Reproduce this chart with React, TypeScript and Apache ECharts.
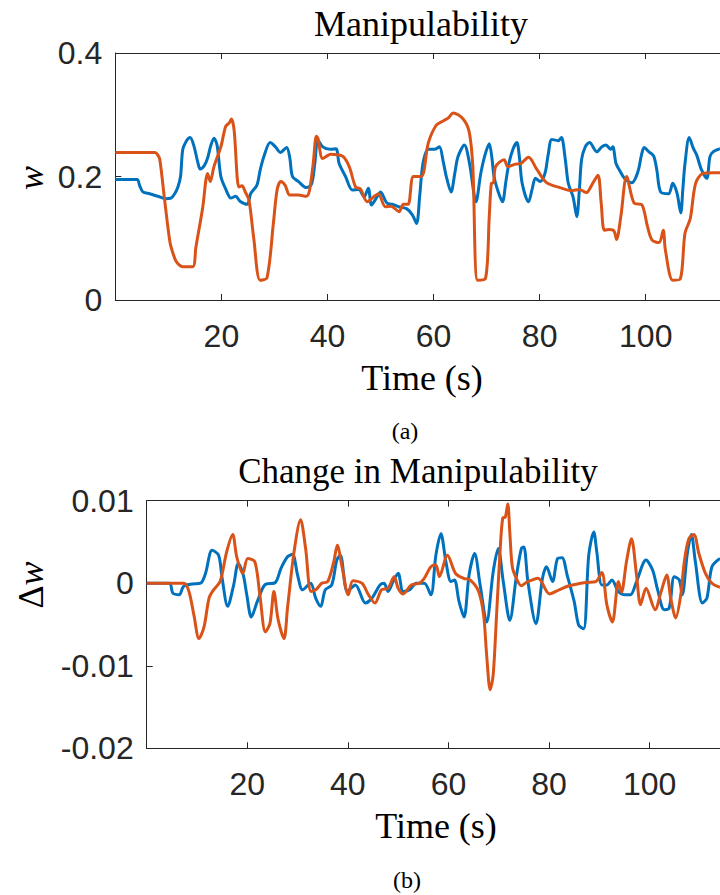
import React, { useEffect, useRef } from "react";
import * as echarts from "echarts";

// Panel (a): manipulability w over time (s)
const blueA: [number, number][] = [
  [0, 0.195], [4.1, 0.195], [4.6, 0.185], [5.2, 0.175], [6.5, 0.172], [8, 0.168], [9.5, 0.164], [10.5, 0.165],
  [11.2, 0.172], [11.8, 0.183], [12.3, 0.2], [12.7, 0.243], [13.3, 0.256], [14.1, 0.263], [14.8, 0.25], [15.5, 0.225],
  [16.0, 0.212], [16.8, 0.218], [17.4, 0.23], [18, 0.25], [18.6, 0.262], [19.2, 0.25], [19.9, 0.2], [20.8, 0.18],
  [21.8, 0.165], [22.7, 0.168], [23.5, 0.16], [24.9, 0.155], [25.5, 0.172], [26.7, 0.186], [27.3, 0.21], [28.0, 0.232],
  [29.2, 0.255], [30.2, 0.248], [31.1, 0.239], [32.3, 0.247], [32.9, 0.23], [33.4, 0.2], [34.5, 0.192], [36.0, 0.182],
  [37.0, 0.188], [37.6, 0.22], [38.2, 0.259], [39.1, 0.248], [40.5, 0.244], [41.6, 0.245], [42.2, 0.221], [43.4, 0.2],
  [44.7, 0.178], [45.9, 0.179], [46.9, 0.167], [47.7, 0.181], [48.3, 0.154], [49.2, 0.165], [50.0, 0.175], [51.2, 0.157],
  [52.2, 0.155], [53.4, 0.151], [54.9, 0.148], [56.0, 0.138], [56.8, 0.124], [57.4, 0.17], [58.0, 0.221], [59.0, 0.244],
  [60.2, 0.244], [61.1, 0.248], [61.8, 0.225], [62.4, 0.2], [63.3, 0.175], [64.0, 0.205], [64.6, 0.232], [65.8, 0.251],
  [66.8, 0.22], [68.0, 0.159], [68.9, 0.205], [69.7, 0.235], [70.5, 0.253], [71.0, 0.23], [71.4, 0.2], [72.2, 0.175],
  [73.0, 0.159], [73.6, 0.19], [74.2, 0.221], [75.0, 0.245], [75.7, 0.255], [76.2, 0.23], [76.7, 0.189], [77.9, 0.159],
  [78.6, 0.18], [79.2, 0.197], [80.1, 0.192], [81.0, 0.205], [81.6, 0.235], [82.3, 0.26], [83.5, 0.258], [84.1, 0.263],
  [84.8, 0.23], [85.4, 0.189], [86.3, 0.167], [87.0, 0.135], [87.5, 0.18], [87.9, 0.227], [88.6, 0.248], [89.4, 0.255],
  [90.8, 0.24], [91.7, 0.248], [92.5, 0.251], [93.4, 0.244], [93.8, 0.248], [94.4, 0.221], [95.2, 0.208], [96.0, 0.197],
  [97.4, 0.19], [98.2, 0.2], [98.7, 0.213], [99.2, 0.235], [99.7, 0.247], [100.6, 0.24], [101.5, 0.233], [102.1, 0.21],
  [102.8, 0.175], [104.3, 0.172], [105.1, 0.189], [105.9, 0.173], [106.6, 0.141], [107.0, 0.18], [107.4, 0.221],
  [108.2, 0.263], [109.0, 0.245], [109.6, 0.235], [110.5, 0.211], [111.5, 0.197], [112.1, 0.232], [112.7, 0.24], [114, 0.245],
];

const orangeA: [number, number][] = [
  [0, 0.239], [7.5, 0.239], [8.0, 0.235], [8.4, 0.227], [9.3, 0.162], [10.3, 0.094], [10.9, 0.075], [11.5, 0.062],
  [12.7, 0.054], [14.6, 0.054], [15.2, 0.086], [16.0, 0.125], [16.5, 0.151], [17.4, 0.205], [17.9, 0.192], [18.6, 0.216],
  [19.9, 0.248], [20.8, 0.281], [21.5, 0.287], [21.9, 0.293], [22.4, 0.275], [23.3, 0.183], [23.9, 0.185], [24.5, 0.175],
  [25.2, 0.162], [26.1, 0.1], [27.3, 0.032], [28.6, 0.036], [29.8, 0.124], [30.5, 0.178], [31.2, 0.192], [32.0, 0.186],
  [32.9, 0.17], [34.5, 0.17], [36.0, 0.168], [36.6, 0.177], [37.3, 0.22], [37.9, 0.265], [38.2, 0.262], [39.1, 0.229],
  [40.6, 0.236], [42.8, 0.233], [44.1, 0.216], [45.3, 0.183], [46.2, 0.18], [47.5, 0.159], [48.7, 0.167], [49.6, 0.172],
  [50.9, 0.151], [52.0, 0.152], [53.5, 0.143], [54.3, 0.155], [55.2, 0.155], [56.2, 0.2], [57.7, 0.2], [59.0, 0.254],
  [60.5, 0.283], [61.8, 0.29], [62.8, 0.295], [63.7, 0.303], [65.5, 0.294], [66.7, 0.273], [67.4, 0.216], [68.3, 0.032],
  [69.8, 0.035], [70.5, 0.135], [70.9, 0.189], [71.3, 0.19], [71.7, 0.216], [73.3, 0.227], [74.0, 0.216], [75.4, 0.22],
  [76.4, 0.221], [77.9, 0.231], [79.5, 0.211], [81.3, 0.19], [83.8, 0.182], [86.0, 0.177], [87.5, 0.179], [88.8, 0.174],
  [90.0, 0.189], [91.0, 0.202], [91.6, 0.157], [92.2, 0.113], [93.1, 0.114], [94.0, 0.112], [94.5, 0.098], [95.3, 0.135],
  [96.4, 0.2], [97.8, 0.157], [99.3, 0.154], [100.3, 0.12], [101.2, 0.097], [102.5, 0.093], [103.3, 0.113], [103.7, 0.081],
  [105.1, 0.032], [106.5, 0.034], [107.4, 0.108], [108.4, 0.132], [109.4, 0.189], [110.8, 0.205], [112.7, 0.206], [114, 0.206],
];

// Panel (b): change in manipulability Δw over time (s)
const blueB: [number, number][] = [
  [0, 0], [4.5, 0], [5.2, -0.0012], [6.5, -0.0014], [7.3, -0.0004], [9.0, -0.0001], [10.7, 0], [11.7, 0.0012],
  [13.0, 0.004], [14.3, 0.0034], [15.0, 0.0006], [16.1, -0.0028], [17.3, -0.0002], [18.2, 0.0024], [19.2, 0.001],
  [19.9, -0.0014], [20.8, -0.0041], [22.0, -0.0022], [23.5, -0.0002], [25.6, 0.0001], [26.7, 0.0018], [28.0, 0.0032],
  [29.0, 0.0035], [30.0, 0.001], [31.0, -0.0008], [32.6, 0], [33.6, -0.0018], [34.6, -0.0028], [35.5, -0.0008],
  [36.8, -0.0002], [37.8, 0.0028], [38.5, 0.0034], [39.9, -0.001], [41.5, -0.0002], [43.5, -0.0024], [44.8, -0.0018],
  [46.4, -0.0002], [47.2, 0], [48.0, -0.001], [49.0, 0.0002], [50.0, 0.0012], [51.0, -0.001], [52.3, -0.0008], [53.6, 0],
  [55.2, 0], [56.5, -0.0014], [57.5, 0.0034], [58.5, 0.006], [59.5, 0.0026], [60.5, 0.0002], [61.2, 0.0004],
  [62.1, -0.0022], [63.1, -0.0041], [64.1, 0.001], [65.2, 0.0036], [66.3, -0.0002], [67.6, -0.0047], [68.9, 0.0014],
  [69.9, 0.0042], [70.9, 0.0002], [72.2, -0.0045], [73.5, 0.0008], [74.5, 0.0042], [75.0, 0.0044], [75.8, 0.0002],
  [77.4, -0.0049], [78.7, 0.0006], [79.5, 0.002], [80.7, 0.0002], [81.7, 0.003], [82.6, 0.0031], [83.6, 0.001],
  [85.0, -0.0022], [85.9, -0.0051], [86.9, -0.0055], [87.9, 0.0034], [88.9, 0.0062], [89.5, 0.0038], [90.5, -0.0002],
  [91.5, -0.0002], [92.5, 0.0004], [93.8, -0.001], [95.1, -0.0014], [96.2, -0.0014], [97.3, 0], [99.3, 0.0028],
  [100.6, 0.0016], [101.6, -0.0008], [102.9, -0.0032], [103.9, -0.003], [104.9, 0.0008], [105.9, 0.0004],
  [106.5, -0.0014], [107.5, 0.0036], [108.3, 0.0059], [109.1, 0.0026], [110.5, -0.0024], [111.4, -0.0018],
  [112.4, 0.002], [114, 0.003],
];

const orangeB: [number, number][] = [
  [0, 0], [7.4, 0], [8.4, -0.001], [9.4, -0.0039], [10.4, -0.0067], [11.4, -0.0053], [12.4, -0.0018], [13.3, -0.0008],
  [14.6, 0.0002], [15.9, 0.0038], [17.1, 0.0059], [17.9, 0.0032], [19.1, 0.0012], [20.1, 0.003], [21.5, 0.0026],
  [22.5, -0.0014], [23.6, -0.0059], [24.5, -0.0049], [25.3, -0.001], [26.1, -0.0043], [27.3, -0.0067], [28.0, -0.003],
  [29.3, 0.0038], [30.6, 0.0077], [31.6, 0.0042], [32.7, -0.001], [33.8, -0.0007], [34.8, 0], [36.0, 0.0002],
  [37.2, 0.0026], [37.9, 0.0046], [38.9, 0.0018], [40.1, -0.0014], [41.0, 0.0003], [42.8, 0], [44.1, -0.0014],
  [45.4, -0.0024], [46.7, -0.0008], [48.0, -0.0006], [49.2, 0.0008], [50.0, -0.0006], [51.0, -0.0013], [52.6, -0.0002],
  [54.2, 0], [55.2, 0.0006], [56.5, 0.002], [57.5, 0.0022], [58.2, 0.0008], [59.8, 0.0034], [61.4, 0.0012],
  [63.0, 0.0006], [64.3, 0.0004], [66.0, -0.001], [67.0, -0.0039], [67.6, -0.0087], [68.3, -0.0129], [68.9, -0.0111],
  [69.6, -0.0035], [70.3, 0.0042], [70.8, 0.0079], [71.3, 0.008], [71.8, 0.0096], [72.2, 0.0062], [72.7, 0.002],
  [73.5, 0.0006], [74.5, -0.0003], [75.5, 0.0001], [77.8, 0.0006], [80.1, -0.0013], [82.0, -0.0008], [84.0, -0.0003],
  [87.3, 0.0001], [89.3, 0.0002], [90.5, 0.0013], [91.5, -0.0026], [92.6, -0.0047], [93.8, 0.0002], [94.4, -0.0011],
  [95.4, 0.0026], [96.4, 0.0054], [97.4, 0.001], [98.2, -0.0026], [99.3, -0.0006], [101.1, -0.0032], [102.3, -0.001],
  [103.4, 0.001], [104.2, -0.0018], [105.2, -0.0042], [106.2, -0.0014], [106.9, 0.0026], [107.8, 0.0054],
  [108.8, 0.0059], [109.8, 0.0036], [111.1, 0.0012], [112.4, 0], [114, -0.0005],
];

const timeMin = 0;
const timeMax = 114;
const timeStep = 20;
const wTicks = { min: 0, max: 0.4, step: 0.2 };
const dwTicks = { min: -0.02, max: 0.01, step: 0.01 };

const titles = ["Manipulability", "Change in Manipulability"];
const captions = ["(a)", "(b)"];
const xName = "Time (s)";

const BLUE = "#0072BD";
const ORANGE = "#D95319";
const AXIS = "#262626";
const SANS = "'Liberation Sans', Arial, sans-serif";
const SERIF = "'Liberation Serif', 'Times New Roman', serif";

function xAxisPair(gridIndex: number) {
  const fmt = (v: number) => (v > timeMin && v < timeMax && v % timeStep === 0 ? String(v) : "");
  const common = {
    type: "value" as const,
    gridIndex,
    min: timeMin,
    max: timeMax,
    interval: timeStep,
    splitLine: { show: false },
    axisLine: { show: true, onZero: false, lineStyle: { color: AXIS, width: 1 } },
    axisTick: { show: true, inside: true, length: 6, lineStyle: { color: AXIS, width: 1 } },
  };
  return [
    {
      ...common,
      position: "bottom" as const,
      axisLabel: {
        show: true,
        showMinLabel: false,
        showMaxLabel: false,
        formatter: fmt,
        color: AXIS,
        fontFamily: SANS,
        fontSize: 32,
        margin: 20,
      },
    },
    { ...common, position: "top" as const, axisLabel: { show: false } },
  ];
}

function yAxis(gridIndex: number, t: { min: number; max: number; step: number }) {
  return {
    type: "value" as const,
    gridIndex,
    min: t.min,
    max: t.max,
    interval: t.step,
    splitLine: { show: false },
    axisLine: { show: true, onZero: false, lineStyle: { color: AXIS, width: 1 } },
    axisTick: { show: true, inside: true, length: 6, lineStyle: { color: AXIS, width: 1 } },
    axisLabel: {
      color: AXIS,
      fontFamily: SANS,
      fontSize: 32,
      margin: 13,
      formatter: (v: number) => String(Math.round(v * 1000) / 1000),
    },
  };
}

function line(data: [number, number][], color: string, idx: number) {
  return {
    type: "line" as const,
    xAxisIndex: idx * 2,
    yAxisIndex: idx,
    data,
    showSymbol: false,
    smooth: 0.3,
    lineStyle: { color, width: 3 },
    clip: true,
    z: color === ORANGE ? 3 : 2,
  };
}

function serifText(text: string, x: number, y: number, size: number, extra: any = {}) {
  return {
    type: "text",
    x,
    y,
    style: {
      text,
      fill: "#000",
      font: `${size}px ${SERIF}`,
      align: "center",
      verticalAlign: "middle",
    },
    ...extra,
  };
}

export default function App() {
  const ref = useRef<HTMLDivElement>(null);
  useEffect(() => {
    if (!ref.current) return;
    const chart = echarts.init(ref.current, undefined, { renderer: "svg" });
    const option: any = {
      animation: false,
      backgroundColor: "#fff",
      grid: [
        { left: 115.3, top: 53, width: 611.6, height: 247, show: false },
        { left: 146.7, top: 500.7, width: 581.4, height: 247.6, show: false },
      ],
      xAxis: [...xAxisPair(0), ...xAxisPair(1)],
      yAxis: [yAxis(0, wTicks), yAxis(1, dwTicks)],
      series: [
        line(blueA, BLUE, 0),
        line(orangeA, ORANGE, 0),
        line(blueB, BLUE, 1),
        line(orangeB, ORANGE, 1),
      ],
      graphic: [
        serifText(titles[0], 421, 24, 36),
        serifText(xName, 422, 378, 36),
        serifText(captions[0], 405, 431, 24),
        {
          type: "text",
          x: 31,
          y: 178,
          rotation: Math.PI / 2,
          style: {
            text: "w",
            fill: "#000",
            font: `italic 36px ${SERIF}`,
            align: "center",
            verticalAlign: "middle",
          },
        },
        serifText(titles[1], 418, 471, 35),
        serifText(xName, 436, 826, 36),
        serifText(captions[1], 407, 880, 24),
        {
          type: "text",
          x: 31,
          y: 585,
          rotation: Math.PI / 2,
          style: {
            text: "{d|Δ}{w|w}",
            align: "center",
            verticalAlign: "middle",
            rich: {
              d: { fontFamily: SERIF, fontSize: 36, fill: "#000", color: "#000" },
              w: { fontFamily: SERIF, fontSize: 36, fontStyle: "italic", fill: "#000", color: "#000" },
            },
          },
        },
      ],
    };
    chart.setOption(option);
    return () => chart.dispose();
  }, []);
  return (
    <div
      ref={ref}
      style={{ position: "absolute", left: 0, top: 0, width: 720, height: 895, background: "#fff" }}
    />
  );
}
